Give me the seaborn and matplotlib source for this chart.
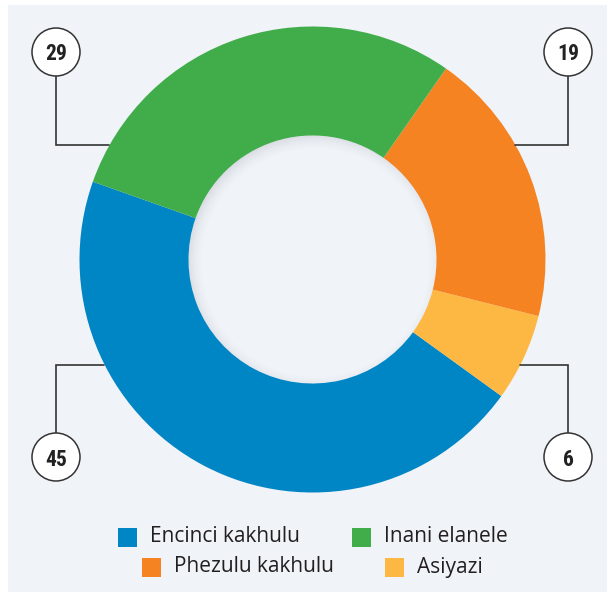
import matplotlib
matplotlib.use("Agg")
import matplotlib.pyplot as plt
from matplotlib.patches import Rectangle, Circle, Wedge
from matplotlib import font_manager
import seaborn as sns

sns.set_theme(style="white")
plt.rcParams["font.family"] = ["Open Sans", "DejaVu Sans"]

# Survey shares (drawn counter-clockwise from the left)
categories = ["Encinci kakhulu", "Asiyazi", "Phezulu kakhulu", "Inani elanele"]
values = [45, 6, 19, 29]
colors = ["#0085c5", "#fdb844", "#f58322", "#41ad4a"]

# Legend order as printed below the ring
legend_rows = [["Encinci kakhulu", "Inani elanele"], ["Phezulu kakhulu", "Asiyazi"]]

W, H = 607, 595
fig = plt.figure(figsize=(W / 100, H / 100), dpi=100)
fig.patch.set_facecolor("white")
ax = fig.add_axes([0, 0, 1, 1])

def py(y):
    return H - y

panel = "#f0f3f8"
ax.add_patch(Rectangle((8, py(592)), 599, 587, facecolor=panel, edgecolor="none", zorder=0))

cx, cy = 312.5, py(259.5)
r_out, r_in = 233, 124
ax.pie(values, colors=colors, startangle=160.5, counterclock=True,
       center=(cx, cy), radius=r_out,
       wedgeprops=dict(width=r_out - r_in, linewidth=0, edgecolor="none"),
       frame=True)

# soft inner shadow around the hole, heavier toward the upper left
hole = Circle((cx, cy), r_in, transform=ax.transData)
sx, sy = cx + 3, cy - 3
for i in range(16):
    a = 0.17 * (1 - i / 16) ** 1.7
    w = Wedge((sx, sy), r_in + 5 - i, 0, 360, width=1.0,
              facecolor="#5f6672", edgecolor="none", alpha=a, zorder=3)
    ax.add_patch(w)
    w.set_clip_path(hole)

# callouts
installed = {f.name for f in font_manager.fontManager.ttflist}
num_family = next(([f] for f in ["Roboto Condensed", "Liberation Sans Narrow",
                                 "Open Sans Condensed", "Roboto"] if f in installed),
                  ["DejaVu Sans"])
line_col = "#333333"
callouts = [
    (str(values[3]), (56, 52), [(56, 76), (56, 145), (109, 145)]),
    (str(values[2]), (568, 52), [(568, 76), (568, 145), (515, 145)]),
    (str(values[0]), (56, 457), [(56, 433), (56, 365), (104, 365)]),
    (str(values[1]), (568, 457), [(568, 433), (568, 365), (520, 365)]),
]
for label, (x, y), pts in callouts:
    ax.plot([p[0] for p in pts], [py(p[1]) for p in pts], color=line_col,
            lw=1.2, solid_joinstyle="miter", zorder=4)
    ax.add_patch(Circle((x, py(y)), 24, facecolor="white", edgecolor=line_col,
                        lw=1.1, zorder=5))
    ax.text(x, py(y), label, ha="center", va="center_baseline", fontsize=15.5,
            fontweight="bold", fontstretch="condensed", color="#222222",
            family=num_family, zorder=6)

# legend
cmap = dict(zip(categories, colors))
row_pos = [(537, [118, 352]), (567, [142, 385])]
for (yrow, xs), names in zip(row_pos, legend_rows):
    for x, name in zip(xs, names):
        ax.add_patch(Rectangle((x, py(yrow + 9.5)), 19, 19, facecolor=cmap[name],
                               edgecolor="none", zorder=4))
        ax.text(x + 32, py(yrow), name, ha="left", va="center", fontsize=15,
                color="#231f20", zorder=4)

ax.set_xlim(0, W)
ax.set_ylim(0, H)
ax.set_aspect("auto")
ax.axis("off")
fig.savefig("out.png", dpi=100, facecolor="white")
